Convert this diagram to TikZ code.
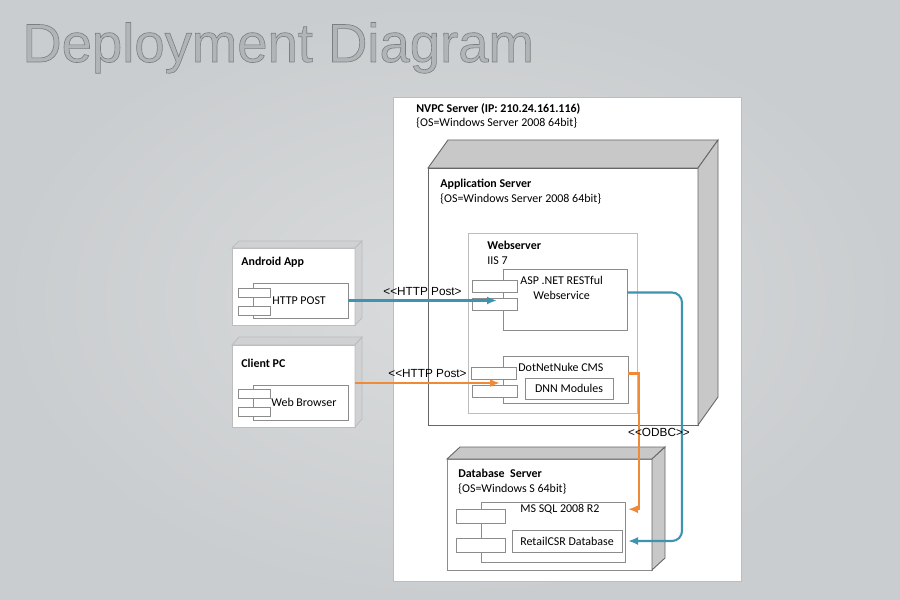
\documentclass[tikz,border=0pt]{standalone}
\usepackage{fontspec}
\setmainfont{Carlito}
\newfontfamily\titlefont{Liberation Sans}
\newfontfamily\arrowfont{Liberation Sans}
\usetikzlibrary{arrows.meta, positioning}
\definecolor{bgin}{HTML}{D9DBDC}
\definecolor{bgout}{HTML}{CACDCF}
\definecolor{titlegray}{HTML}{B2B5B7}
\definecolor{httpteal}{HTML}{3E93B0}
\definecolor{httporange}{HTML}{EE8A38}
\definecolor{facegray}{HTML}{C8C8C8}
\definecolor{devgray}{HTML}{CFD1D2}
\definecolor{edgegray}{HTML}{666666}
\definecolor{linegray}{HTML}{8C8C8C}
\definecolor{palegray}{HTML}{BDBDBD}
\newcommand{\smalltext}{\fontsize{6.8}{8.2}\selectfont}
% outlined title letters
\newcommand{\embossed}[1]{\special{pdf:literal direct 2 Tr 0.35 w 0.48 0.50 0.51 RG}#1\special{pdf:literal direct 0 Tr}}
% top and side faces of a 3D node
\newcommand{\nodedepth}[4][face]{%
  \filldraw[#1] (#2.north west) -- ++(#3,#4) -- ([shift={(#3,#4)}]#2.north east) -- (#2.north east) -- cycle;
  \filldraw[#1] (#2.north east) -- ++(#3,#4) -- ([shift={(#3,#4)}]#2.south east) -- (#2.south east) -- cycle;
}
\tikzset{
  frontbox/.style={rectangle, fill=white, inner sep=0, outer sep=0,
    anchor=north west, line width=0.5pt},
  devbox/.style={frontbox, draw=palegray},
  face/.style={fill=facegray, draw=edgegray, line width=0.5pt},
  devface/.style={fill=devgray, draw=palegray, line width=0.5pt},
  compbox/.style={rectangle, draw=linegray, fill=white, inner sep=0, outer sep=0,
    anchor=north west, font=\smalltext, line width=0.5pt},
  portbox/.style={compbox, minimum width=9mm, minimum height=2.4mm},
  smallport/.style={compbox, minimum width=6.4mm, minimum height=1.8mm},
  dbport/.style={compbox, minimum width=9.8mm, minimum height=2.8mm},
  heading/.style={inner sep=0, align=left, font=\smalltext},
  itemtext/.style={inner sep=0, font=\smalltext},
  conlabel/.style={inner sep=0, font=\arrowfont\fontsize{6.7}{8}\selectfont},
  tealline/.style={draw=httpteal, line width=1.2pt, -{Latex[length=2mm,width=1.6mm]}},
  orangeline/.style={draw=httporange, line width=1.2pt, -{Latex[length=2mm,width=1.6mm]}},
  titletext/.style={anchor=base west, inner sep=0, text=titlegray,
    font=\titlefont\fontsize{31}{36}\selectfont},
}

\begin{document}
\begin{tikzpicture}[x=0.2mm, y=-0.2mm]
  \useasboundingbox (0,0) rectangle (900,600);
  \shade[inner color=bgin, outer color=bgout] (0,0) rectangle (900,600);

  \node[titletext] (title) at (22,62) {\embossed{Deployment Diagram}};

  % server machine
  \node[frontbox, draw=palegray, minimum width=69.6mm, minimum height=96.8mm] (nvpc) at (393,97) {};
  \node[heading, below right=1.2mm and 4.6mm of nvpc.north west] (nvpclbl)
    {\textbf{NVPC Server (IP: 210.24.161.116)}\\\{OS=Windows Server 2008 64bit\}};

  \node[frontbox, draw=edgegray, minimum width=54mm, minimum height=51.4mm] (app) at (428,168) {};
  \nodedepth{app}{20}{-28}
  \node[heading, below right=2.2mm and 2.4mm of app.north west] (applbl)
    {\textbf{Application Server}\\\{OS=Windows Server 2008 64bit\}};

  \node[frontbox, draw=palegray, minimum width=33.8mm, minimum height=36mm] (websrv) at (468,233) {};
  \node[heading, below right=1.6mm and 3.8mm of websrv.north west] (weblbl)
    {\textbf{Webserver}\\IIS 7};

  \node[compbox, minimum width=24.8mm, minimum height=12.2mm] (asp) at (503,269) {};
  \node[portbox] (aspporta) at (472,280) {};
  \node[portbox] (aspportb) at (472,298) {};
  \node[heading, align=center, below right=1.4mm and 3.4mm of asp.north west] (asplbl)
    {ASP .NET RESTful\\Webservice};

  \node[compbox, minimum width=25mm, minimum height=9.4mm] (cms) at (503,356) {};
  \node[portbox] (cmsporta) at (471,367) {};
  \node[portbox] (cmsportb) at (472,385) {};
  \node[heading, below right=1.4mm and 3mm of cms.north west] (cmslbl) {DotNetNuke CMS};
  \node[compbox, minimum width=17.6mm, minimum height=4.2mm] (dnn) at (525,378) {DNN Modules};

  % client devices
  \node[devbox, minimum width=24.6mm, minimum height=15.4mm] (android) at (232,248) {};
  \nodedepth[devface]{android}{7}{-7}
  \node[heading, below right=1.8mm and 1.8mm of android.north west] (androidlbl) {\textbf{Android App}};
  \node[compbox, minimum width=19mm, minimum height=7mm] (hpost) at (253,283) {};
  \node[smallport] (hpostporta) at (238,288) {};
  \node[smallport] (hpostportb) at (238,306) {};
  \node[itemtext, right=3.8mm of hpost.west] (hpostlbl) {HTTP POST};

  \node[devbox, minimum width=24.6mm, minimum height=16.4mm] (client) at (232,345) {};
  \nodedepth[devface]{client}{7}{-8}
  \node[heading, below right=2.8mm and 1.8mm of client.north west] (clientlbl) {\textbf{Client PC}};
  \node[compbox, minimum width=19mm, minimum height=7mm] (browser) at (253,385) {};
  \node[smallport] (browserporta) at (238,389) {};
  \node[smallport] (browserportb) at (238,407) {};
  \node[itemtext, right=3.6mm of browser.west] (browserlbl) {Web Browser};

  % database machine
  \node[frontbox, draw=linegray, minimum width=41mm, minimum height=22.2mm] (db) at (447,459) {};
  \nodedepth{db}{13}{-12}
  \node[heading, below right=2mm and 2.2mm of db.north west] (dblbl)
    {\textbf{Database~ Server}\\\{OS=Windows S 64bit\}};
  \node[compbox, minimum width=28.8mm, minimum height=12mm] (mssql) at (481,502) {};
  \node[dbport] (mssqlporta) at (456,509) {};
  \node[dbport] (mssqlportb) at (456,538) {};
  \node[heading, below right=0.4mm and 7.8mm of mssql.north west] (sqllbl) {MS SQL 2008 R2};
  \node[compbox, minimum width=22mm, minimum height=4.4mm] (retail) at (512,530) {RetailCSR Database};

  % connections
  \draw[tealline] (hpost.east) -- ([xshift=-1.2mm]asp.west |- hpost.east)
    node[conlabel, midway, above=0.8mm] {<<HTTP Post>};
  \draw[orangeline] ([yshift=0.6mm]client.east) -- ([xshift=-0.6mm,yshift=0.6mm]cms.west |- client.east)
    node[conlabel, midway, above=0.8mm] {<<HTTP Post>};
  \draw[tealline, rounded corners=2mm] ([yshift=1.4mm]asp.east) -- ++(55,0) |- ([xshift=1.2mm]retail.east);
  \draw[orangeline] ([yshift=1.2mm]cms.east) -- ++(11,0) |- ([xshift=0.6mm]mssql.east |- sqllbl);
  \node[conlabel] (odbc) at (659,432) {<<ODBC>>};
\end{tikzpicture}
\end{document}
